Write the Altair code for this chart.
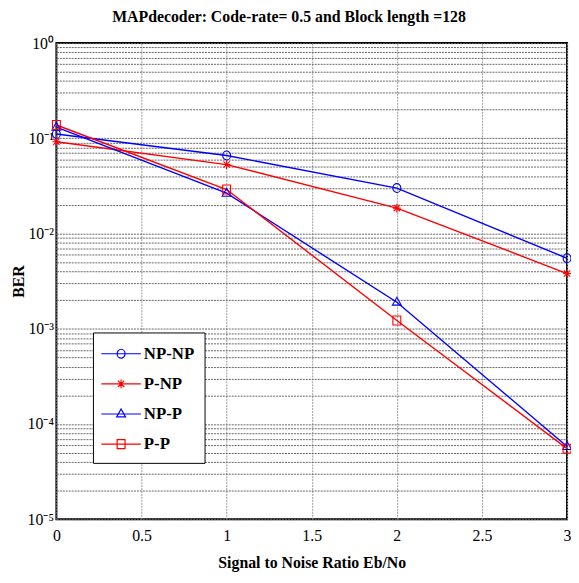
import altair as alt
import pandas as pd

snr = [0, 1, 2, 3]
series_names = ["NP-NP", "P-NP", "NP-P", "P-P"]
ber_np_np = [0.111, 0.066, 0.030, 0.0055]
ber_p_np = [0.092, 0.053, 0.0185, 0.0038]
ber_np_p = [0.131, 0.0265, 0.0019, 5.8e-5]
ber_p_p = [0.138, 0.029, 0.00122, 5.5e-5]
line_colors = ["#0000ff", "#ff0000", "#0000ff", "#ff0000"]

x_ticks = [0, 0.5, 1, 1.5, 2, 2.5, 3]
y_ticks = [m * 10.0 ** e for e in range(-5, 0) for m in range(1, 10)] + [1.0]

rows = []
for name, vals in zip(series_names, [ber_np_np, ber_p_np, ber_np_p, ber_p_p]):
    for xv, v in zip(snr, vals):
        rows.append({"snr": xv, "ber": v, "series": name})
df = pd.DataFrame(rows)

# marker paths in unit coordinates (scaled by sqrt(size)/2)
circle_p = "M-0.4,0A0.4,0.45 0 1,0 0.4,0A0.4,0.45 0 1,0 -0.4,0Z"
star_p = "M0,-0.45L0,0.45M-0.4,0L0.4,0M-0.32,-0.32L0.32,0.32M-0.32,0.32L0.32,-0.32"
tri_p = "M0,-0.5L0.45,0.3L-0.45,0.3Z"
sq_p = "M-0.4,-0.45L0.4,-0.45L0.4,0.45L-0.4,0.45Z"
marker_paths = [circle_p, star_p, tri_p, sq_p]
legend_paths = ["M-2,0L2,0" + p for p in marker_paths]

color_scale = alt.Scale(domain=series_names, range=line_colors)

label_expr = (
    "abs(log(datum.value)/LN10 - round(log(datum.value)/LN10)) < 0.001 ? "
    "'10' + (round(log(datum.value)/LN10) == 0 ? '\u2070' : "
    "'\u207b' + ['\u2070','\u00b9','\u00b2','\u00b3','\u2074','\u2075'][-round(log(datum.value)/LN10)]) : ''"
)

x_enc = alt.X(
    "snr:Q",
    scale=alt.Scale(domain=[0, 3], nice=False, zero=False),
    axis=alt.Axis(
        values=x_ticks, grid=True, gridColor="#999999", gridDash=[2, 1], gridWidth=1,
        ticks=False, domain=False, labelFlush=False, labelOverlap=False,
        labelFont="Liberation Sans Narrow", labelFontSize=16, labelColor="black",
        labelPadding=9, format="~g",
        title="Signal to Noise Ratio Eb/No", titleFont="Liberation Serif",
        titleFontWeight="bold", titleFontSize=16, titleColor="black", titlePadding=11,
    ),
)
y_enc = alt.Y(
    "ber:Q",
    scale=alt.Scale(type="log", domain=[1e-5, 1], nice=False),
    axis=alt.Axis(
        values=y_ticks, grid=True, gridColor="#666666", gridDash=[2, 1], gridWidth=1,
        ticks=False, domain=False, labelFlush=False, labelOverlap=False,
        labelExpr=label_expr, labelFont="Liberation Sans Narrow", labelFontSize=16,
        labelColor="black", labelPadding=3, labelBaseline="middle",
        title="BER", titleFont="Liberation Serif", titleFontWeight="bold",
        titleFontSize=16, titleColor="black", titlePadding=1,
    ),
)

leg = alt.Legend(
    title=None, orient="none", legendX=37, legendY=293,
    symbolSize=400, symbolOpacity=1, symbolStrokeWidth=1.2, symbolOffset=7,
    labelFont="Liberation Serif", labelFontWeight="bold", labelFontSize=17,
    labelColor="black", labelBaseline="middle", labelOffset=12,
    strokeColor="black", fillColor="white", padding=10.5, rowPadding=11.5,
    cornerRadius=0,
)

base = alt.Chart(df)

lines = base.mark_line(strokeWidth=1.4).encode(
    x=x_enc, y=y_enc,
    color=alt.Color("series:N", scale=color_scale, legend=leg),
    detail="series:N",
)

marker_layers = []
for name, path in zip(series_names, marker_paths):
    marker_layers.append(
        base.transform_filter(alt.datum.series == name)
        .mark_point(shape=path, size=400, filled=False, strokeWidth=1.1, opacity=1)
        .encode(
            x=x_enc, y=y_enc,
            color=alt.Color("series:N", scale=color_scale, legend=leg),
        )
    )

legend_layer = base.mark_point(opacity=0, filled=False, strokeWidth=1.2).encode(
    x=x_enc, y=y_enc,
    color=alt.Color("series:N", scale=color_scale, legend=leg),
    shape=alt.Shape("series:N", scale=alt.Scale(domain=series_names, range=legend_paths), legend=leg),
)

chart = alt.layer(lines, *marker_layers, legend_layer).properties(
    width=517, height=482,
    title=alt.TitleParams(
        "MAPdecoder: Code-rate= 0.5 and Block length =128",
        font="Liberation Serif", fontWeight="bold", fontSize=16, color="black",
        anchor="middle", dx=-23, offset=10,
    ),
    autosize=alt.AutoSizeParams(type="none"),
    padding={"left": 49, "top": 32, "right": 4, "bottom": 53},
).configure_view(stroke="black", strokeWidth=2)

chart.save("out.html", embed_options={"renderer": "svg", "actions": False})
